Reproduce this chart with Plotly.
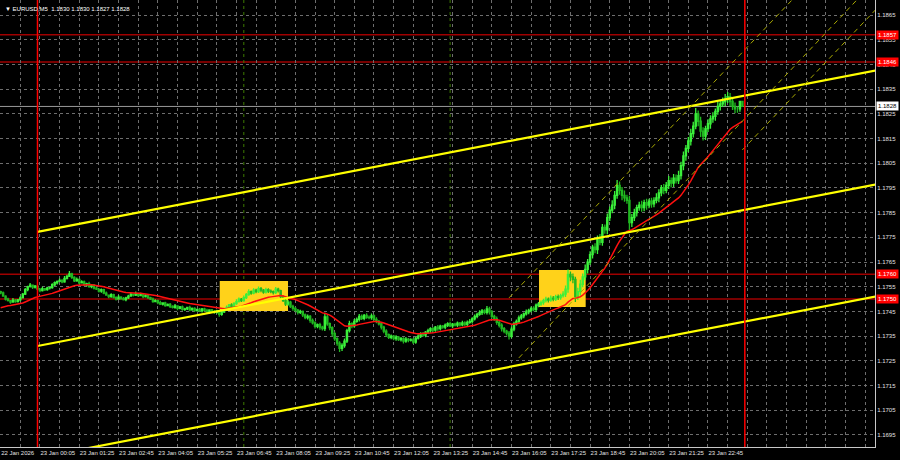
import numpy as np
import pandas as pd
import plotly.graph_objects as go

# ---------------- data ----------------
title_text = "EURUSD,M5  1.1830 1.1830 1.1827 1.1828"
first_bar = "2026-01-22 22:45"
first_open = 1.17530

closes = [
    1.17525, 1.17512, 1.17500, 1.17494, 1.17488, 1.17496, 1.17490, 1.17497, 1.17505, 1.17520,
    1.17538, 1.17550, 1.17556, 1.17548, 1.17552, 1.17540, 1.17534, 1.17542, 1.17538, 1.17545,
    1.17546, 1.17558, 1.17566, 1.17572, 1.17576, 1.17570, 1.17584, 1.17592, 1.17602, 1.17588,
    1.17574, 1.17580, 1.17566, 1.17570, 1.17558, 1.17562, 1.17550, 1.17556, 1.17544, 1.17540,
    1.17532, 1.17538, 1.17524, 1.17516, 1.17510, 1.17518, 1.17506, 1.17500, 1.17508, 1.17502,
    1.17498, 1.17505, 1.17512, 1.17520, 1.17516, 1.17522, 1.17514, 1.17520, 1.17510, 1.17515,
    1.17506, 1.17500, 1.17490, 1.17494, 1.17486, 1.17480, 1.17484, 1.17474, 1.17478, 1.17470,
    1.17466, 1.17472, 1.17462, 1.17468, 1.17458, 1.17460, 1.17466, 1.17456, 1.17462, 1.17454,
    1.17458, 1.17452, 1.17460, 1.17454, 1.17448, 1.17456, 1.17450, 1.17446, 1.17452, 1.17438,
    1.17448, 1.17460, 1.17466, 1.17476, 1.17470, 1.17482, 1.17490, 1.17500, 1.17494, 1.17506,
    1.17518, 1.17530, 1.17524, 1.17536, 1.17530, 1.17542, 1.17536, 1.17528, 1.17538, 1.17532,
    1.17530, 1.17526, 1.17540, 1.17534, 1.17510, 1.17494, 1.17480, 1.17488, 1.17470, 1.17462,
    1.17455, 1.17446, 1.17450, 1.17436, 1.17425, 1.17430, 1.17414, 1.17404, 1.17390, 1.17396,
    1.17386, 1.17380, 1.17428, 1.17400, 1.17384, 1.17360, 1.17340, 1.17322, 1.17300, 1.17312,
    1.17330, 1.17372, 1.17400, 1.17392, 1.17410, 1.17418, 1.17430, 1.17422, 1.17434, 1.17426,
    1.17425, 1.17432, 1.17418, 1.17410, 1.17400, 1.17386, 1.17370, 1.17356, 1.17345, 1.17350,
    1.17340, 1.17346, 1.17336, 1.17340, 1.17330, 1.17338, 1.17334, 1.17335, 1.17326, 1.17342,
    1.17350, 1.17360, 1.17354, 1.17366, 1.17372, 1.17380, 1.17374, 1.17386, 1.17380, 1.17390,
    1.17386, 1.17394, 1.17400, 1.17392, 1.17398, 1.17395, 1.17402, 1.17396, 1.17404, 1.17398,
    1.17406, 1.17410, 1.17420, 1.17430, 1.17438, 1.17445, 1.17452, 1.17446, 1.17460, 1.17448,
    1.17430, 1.17420, 1.17406, 1.17394, 1.17380, 1.17370, 1.17362, 1.17350, 1.17378, 1.17400,
    1.17410, 1.17424, 1.17432, 1.17440, 1.17448, 1.17454, 1.17462, 1.17458, 1.17475, 1.17480,
    1.17486, 1.17494, 1.17500, 1.17496, 1.17504, 1.17500, 1.17510, 1.17506, 1.17514, 1.17520,
    1.17540, 1.17600, 1.17590, 1.17580, 1.17510, 1.17530, 1.17560, 1.17590, 1.17620, 1.17650,
    1.17680, 1.17710, 1.17700, 1.17745, 1.17730, 1.17790, 1.17780, 1.17830, 1.17860, 1.17880,
    1.17920, 1.17960, 1.17940, 1.17920, 1.17910, 1.17900, 1.17810, 1.17830, 1.17850, 1.17870,
    1.17880, 1.17870, 1.17890, 1.17880, 1.17896, 1.17886, 1.17900, 1.17910, 1.17930, 1.17950,
    1.17940, 1.17960, 1.17980, 1.17970, 1.17990, 1.17980, 1.18000, 1.18040, 1.18080, 1.18110,
    1.18140, 1.18170, 1.18200, 1.18250, 1.18220, 1.18180, 1.18160, 1.18190, 1.18210, 1.18230,
    1.18240, 1.18260, 1.18280, 1.18290, 1.18300, 1.18310, 1.18320, 1.18300, 1.18280, 1.18270,
    1.18270, 1.18300, 1.18280,
]

# wick lengths beyond the body, in points (0.00001)
up_wick_pts = [
    4, 6, 3, 5, 2, 8, 4, 3, 6, 5, 7, 4, 9, 3, 5, 6, 4, 8, 3, 5,
    4, 6, 5, 3, 7, 4, 9, 6, 12, 5, 4, 7, 3, 6, 5, 4, 8, 3, 5, 6,
    3, 5, 4, 7, 2, 6, 4, 5, 8, 3, 6, 4, 5, 7, 3, 9, 4, 6, 3, 5,
    4, 3, 6, 5, 4, 7, 3, 5, 4, 6, 5, 8, 3, 4, 6, 5, 3, 7, 4, 5,
    3, 6, 4, 5, 7, 3, 4, 6, 5, 4, 6, 5, 8, 4, 7, 5, 9, 6, 4, 8,
    7, 10, 5, 8, 6, 9, 7, 5, 8, 6, 7, 5, 9, 6, 4, 5, 6, 8, 5, 7,
    6, 5, 7, 4, 6, 8, 5, 7, 6, 5, 8, 6, 14, 7, 5, 6, 8, 5, 7, 9,
    10, 8, 12, 6, 9, 7, 10, 8, 6, 9, 7, 10, 6, 8, 5, 7, 6, 8, 5, 7,
    5, 7, 4, 6, 5, 8, 4, 6, 7, 5, 8, 6, 7, 5, 8, 6, 7, 5, 9, 6,
    5, 7, 6, 8, 5, 6, 7, 5, 8, 6, 7, 9, 6, 8, 7, 10, 8, 7, 12, 9,
    8, 7, 9, 6, 8, 7, 6, 9, 10, 8, 7, 9, 8, 6, 10, 7, 8, 9, 7, 8,
    8, 7, 9, 6, 10, 8, 7, 9, 8, 12, 15, 20, 12, 14, 10, 16, 18, 14, 20, 12,
    14, 10, 16, 12, 18, 14, 12, 16, 15, 20, 18, 22, 16, 14, 20, 12, 18, 14, 16, 12,
    14, 18, 12, 16, 10, 14, 12, 18, 15, 12, 16, 14, 18, 12, 16, 14, 20, 16, 18, 14,
    16, 20, 18, 24, 14, 18, 16, 12, 18, 14, 16, 12, 18, 14, 16, 20, 18, 14, 12, 16,
    10, 0, 2,
]
down_wick_pts = [
    5, 3, 6, 4, 7, 3, 5, 4, 6, 3, 4, 6, 3, 7, 5, 4, 6, 3, 5, 4,
    6, 4, 5, 7, 3, 6, 4, 5, 3, 7, 5, 4, 6, 3, 5, 7, 4, 6, 5, 3,
    5, 6, 4, 3, 7, 5, 4, 6, 3, 5, 4, 7, 5, 3, 6, 4, 5, 3, 7, 4,
    6, 4, 5, 3, 7, 4, 6, 5, 3, 6, 4, 5, 7, 3, 5, 6, 4, 5, 3, 6,
    5, 4, 6, 3, 5, 7, 4, 6, 5, 10, 6, 4, 5, 7, 4, 6, 5, 4, 6, 5,
    6, 5, 7, 4, 6, 5, 8, 6, 5, 7, 6, 8, 5, 7, 9, 6, 8, 7, 6, 9,
    7, 8, 6, 9, 7, 8, 10, 7, 9, 8, 10, 7, 9, 8, 10, 12, 9, 11, 14, 10,
    9, 8, 7, 10, 8, 6, 9, 7, 8, 6, 7, 9, 6, 8, 7, 9, 8, 10, 7, 8,
    7, 9, 6, 8, 10, 7, 9, 6, 8, 7, 6, 8, 7, 9, 6, 8, 7, 6, 8, 7,
    6, 8, 7, 5, 9, 6, 8, 7, 6, 8, 7, 6, 9, 7, 8, 6, 9, 7, 8, 10,
    9, 8, 10, 9, 11, 8, 10, 14, 9, 8, 7, 9, 8, 10, 7, 9, 8, 7, 9, 8,
    7, 9, 8, 10, 7, 9, 8, 10, 9, 8, 12, 14, 18, 16, 22, 14, 16, 12, 14, 16,
    12, 16, 14, 18, 12, 14, 16, 18, 14, 12, 16, 14, 18, 20, 16, 14, 30, 18, 14, 16,
    12, 16, 14, 18, 12, 16, 14, 12, 18, 14, 16, 12, 14, 18, 16, 12, 14, 16, 18, 20,
    14, 18, 16, 12, 20, 24, 18, 16, 14, 20, 16, 18, 14, 16, 12, 18, 16, 20, 14, 18,
    16, 12, 1,
]

ma_span = 24
ma_start = 1.17460

price_ticks = [1.1695, 1.1705, 1.1715, 1.1725, 1.1735, 1.1745, 1.1755, 1.1765, 1.1775,
               1.1785, 1.1795, 1.1805, 1.1815, 1.1825, 1.1835, 1.1845, 1.1855, 1.1865]
time_labels = ["22 Jan 2026", "23 Jan 00:05", "23 Jan 01:25", "23 Jan 02:45", "23 Jan 04:05",
               "23 Jan 05:25", "23 Jan 06:45", "23 Jan 08:05", "23 Jan 09:25", "23 Jan 10:45",
               "23 Jan 12:05", "23 Jan 13:25", "23 Jan 14:45", "23 Jan 16:05", "23 Jan 17:25",
               "23 Jan 18:45", "23 Jan 20:05", "23 Jan 21:25", "23 Jan 22:45"]

red_levels = [1.1857, 1.1846, 1.1760, 1.1750]
current_price = 1.1828
day_separators = ["2026-01-23 00:00", "2026-01-24 00:00"]
session_marks = ["2026-01-23 07:00", "2026-01-23 14:00"]

box_t0 = ["2026-01-23 06:11", "2026-01-23 17:01"]
box_t1 = ["2026-01-23 08:30", "2026-01-23 18:36"]
box_lo = [1.17452, 1.17468]
box_hi = [1.17573, 1.17618]

channel_t = ["2026-01-23 00:00", "2026-01-23 22:45"]
channel_upper = [1.17772, 1.18295]
channel_middle = [1.17310, 1.17833]
channel_lower = [1.16857, 1.17380]

thin_t0 = ["2026-01-23 16:00", "2026-01-23 16:20", "2026-01-23 23:55"]
thin_p0 = [1.17505, 1.17262, 1.18104]
thin_t1 = ["2026-01-23 23:40", "2026-01-24 00:30", "2026-01-24 01:00"]
thin_p1 = [1.18468, 1.18294, 1.18240]

x_range = ["2026-01-22 22:43:40", "2026-01-24 04:25"]
y_range = [1.16901, 1.18711]

# ---------------- build ----------------
n = len(closes)
times = pd.date_range(first_bar, periods=n, freq="5min")
c = np.array(closes)
o = np.concatenate([[first_open], c[:-1]])
hi = np.maximum(o, c) + np.array(up_wick_pts[:n]) * 1e-5
lo = np.minimum(o, c) - np.array(down_wick_pts[:n]) * 1e-5
ma = pd.Series(np.concatenate([[ma_start], c])).ewm(span=ma_span, adjust=False).mean().values[1:]

xr0, xr1 = pd.Timestamp(x_range[0]), pd.Timestamp(x_range[1])

def ray(t0, p0, t1, p1, t_end):
    t0, t1, t_end = pd.Timestamp(t0), pd.Timestamp(t1), pd.Timestamp(t_end)
    slope = (p1 - p0) / (t1 - t0).total_seconds()
    return [t0, t_end], [p0, p0 + slope * (t_end - t0).total_seconds()]

fig = go.Figure()

fig.add_trace(go.Candlestick(
    x=times, open=o, high=hi, low=lo, close=c,
    increasing=dict(line=dict(color="#3af03a", width=1.3), fillcolor="#8cff8c"),
    decreasing=dict(line=dict(color="#20b820", width=1.3), fillcolor="#149414"),
    whiskerwidth=0, showlegend=False, hoverinfo="skip"))

fig.add_trace(go.Scatter(x=times, y=ma, mode="lines",
                         line=dict(color="#ff1010", width=1.5), showlegend=False, hoverinfo="skip"))

far_end = pd.Timestamp("2026-01-24 06:00")
for prices in (channel_upper, channel_middle, channel_lower):
    xs, ys = ray(channel_t[0], prices[0], channel_t[1], prices[1], far_end)
    fig.add_trace(go.Scatter(x=xs, y=ys, mode="lines", line=dict(color="#ffff00", width=2.2),
                             showlegend=False, hoverinfo="skip"))

for t0, p0, t1, p1 in zip(thin_t0, thin_p0, thin_t1, thin_p1):
    xs, ys = ray(t0, p0, t1, p1, far_end)
    fig.add_trace(go.Scatter(x=xs, y=ys, mode="lines",
                             line=dict(color="#a8a800", width=1, dash="5px,4px"),
                             showlegend=False, hoverinfo="skip"))

shapes = []
for t0, t1, p0, p1 in zip(box_t0, box_t1, box_lo, box_hi):
    shapes.append(dict(type="rect", xref="x", yref="y", x0=t0, x1=t1, y0=p0, y1=p1,
                       fillcolor="#ffd21a", line=dict(width=0), layer="between"))
for lvl in red_levels:
    shapes.append(dict(type="line", xref="paper", yref="y", x0=0, x1=1, y0=lvl, y1=lvl,
                       line=dict(color="#a00000", width=1.5), layer="between"))
shapes.append(dict(type="line", xref="paper", yref="y", x0=0, x1=1, y0=current_price, y1=current_price,
                   line=dict(color="#9a9a9a", width=1), layer="between"))
for t in session_marks:
    shapes.append(dict(type="line", xref="x", yref="paper", x0=t, x1=t, y0=0, y1=1,
                       line=dict(color="#3c7a00", width=1, dash="dot"), layer="between"))
for t in day_separators:
    shapes.append(dict(type="line", xref="x", yref="paper", x0=t, x1=t, y0=0, y1=1,
                       line=dict(color="#ff0000", width=1.5), layer="above"))

lab_font = "Liberation Sans"
annotations = []
for lvl in red_levels:
    annotations.append(dict(xref="paper", yref="y", x=1, y=lvl, xanchor="left", yanchor="middle",
                            text=f"{lvl:.4f}", showarrow=False, xshift=1,
                            font=dict(color="white", size=6, family=lab_font),
                            bgcolor="#ff0000", borderpad=1))
annotations.append(dict(xref="paper", yref="y", x=1, y=current_price, xanchor="left", yanchor="middle",
                        text=f"{current_price:.4f}", showarrow=False, xshift=1,
                        font=dict(color="black", size=6, family=lab_font),
                        bgcolor="#ffffff", borderpad=1))
annotations.append(dict(xref="paper", yref="paper", x=0, y=1, xanchor="left", yanchor="top",
                        text="▼ " + title_text, showarrow=False, xshift=3, yshift=-4,
                        font=dict(color="white", size=6, family=lab_font)))

# time ticks: gridline every 40 min, label every 80 min
grid_times = pd.date_range(first_bar, xr1, freq="40min")
tick_text = []
for i in range(len(grid_times)):
    if i % 2 == 0 and i // 2 < len(time_labels):
        tick_text.append(time_labels[i // 2])
    else:
        tick_text.append("")

fig.update_layout(
    width=900, height=460,
    paper_bgcolor="black", plot_bgcolor="black",
    margin=dict(l=0, r=25, t=0, b=13),
    showlegend=False,
    shapes=shapes, annotations=annotations,
    font=dict(family=lab_font, size=6, color="#e0e0e0"),
    xaxis=dict(type="date", range=[xr0, xr1], rangeslider=dict(visible=False), automargin=False,
               tickvals=list(grid_times), ticktext=tick_text, ticklabelposition="outside right",
               tickangle=0,
               showgrid=True, gridcolor="#6e6e6e", griddash="3px,3px", gridwidth=1,
               showline=True, linecolor="#c8c8c8", linewidth=1, ticks="", zeroline=False,
               tickfont=dict(size=6, color="#e0e0e0")),
    yaxis=dict(side="right", range=y_range, tickvals=price_ticks, automargin=False,
               ticktext=[f"{v:.4f}" for v in price_ticks],
               showgrid=True, gridcolor="#6e6e6e", griddash="3px,3px", gridwidth=1,
               showline=True, linecolor="#c8c8c8", linewidth=1, ticks="",
               zeroline=False, tickfont=dict(size=6, color="#e0e0e0")),
)

fig.write_html("out.html", config={"displayModeBar": False, "staticPlot": True},
               post_script="document.body.style.margin='0';document.body.style.background='black';")
